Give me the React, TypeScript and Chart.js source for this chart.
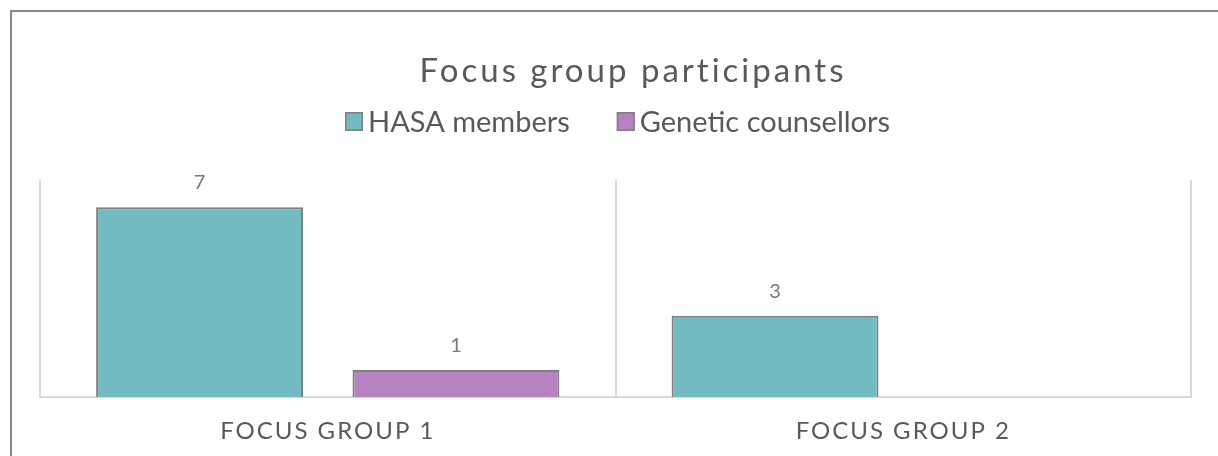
import React, { useEffect, useRef } from "react";
import { Chart, registerables } from "chart.js";

Chart.register(...registerables);

const categories = ["FOCUS GROUP 1", "FOCUS GROUP 2"];
const hasaMembers: (number | null)[] = [7, 3];
const geneticCounsellors: (number | null)[] = [1, null];
const seriesNames = ["HASA members", "Genetic counsellors"];
const seriesColors = ["#72BBC0", "#B782C2"];
const chartTitle = "Focus group participants";
const yMin = 0;
const yMax = 8;

const FONT = "Lato, 'Open Sans', sans-serif";
const TEXT = "#595959";

const customPlugin = {
  id: "customDecor",
  beforeDraw(chart: any) {
    (chart.ctx as any).letterSpacing = "2px";
  },
  beforeDatasetsDraw(chart: any) {
    (chart.ctx as any).letterSpacing = "0px";
  },
  afterDraw(chart: any) {
    const ctx = chart.ctx as any;
    ctx.save();
    // data labels
    ctx.letterSpacing = "0px";
    ctx.font = `20px ${FONT}`;
    ctx.fillStyle = "#7a7a7a";
    ctx.textAlign = "center";
    ctx.textBaseline = "alphabetic";
    chart.data.datasets.forEach((ds: any, i: number) => {
      const meta = chart.getDatasetMeta(i);
      meta.data.forEach((bar: any, j: number) => {
        const v = ds.data[j];
        if (v == null) return;
        ctx.fillText(String(v), bar.x, bar.y - 18);
      });
    });
    // title
    ctx.letterSpacing = "3px";
    ctx.font = `33px ${FONT}`;
    ctx.fillStyle = TEXT;
    ctx.textAlign = "center";
    ctx.fillText(chartTitle, 621, 70);
    // legend
    ctx.letterSpacing = "0px";
    ctx.font = `29px ${FONT}`;
    ctx.textAlign = "left";
    const box = 18;
    const gapText = 5;
    const gapItem = 47;
    let x = 333;
    chart.data.datasets.forEach((ds: any) => {
      const w = ctx.measureText(ds.label).width;
      ctx.fillStyle = ds.backgroundColor;
      ctx.fillRect(x, 100, box, 19);
      ctx.strokeStyle = "#7f7f7f";
      ctx.lineWidth = 1.5;
      ctx.strokeRect(x + 0.75, 100.75, box - 1.5, 19 - 1.5);
      ctx.fillStyle = TEXT;
      ctx.fillText(ds.label, x + box + gapText, 120);
      x += box + gapText + w + gapItem;
    });
    ctx.restore();
  },
};

export default function App() {
  const canvasRef = useRef<HTMLCanvasElement | null>(null);

  useEffect(() => {
    if (!canvasRef.current) return;
    const chart = new Chart(canvasRef.current, {
      type: "bar",
      data: {
        labels: categories,
        datasets: [
          {
            label: seriesNames[0],
            data: hasaMembers,
            backgroundColor: seriesColors[0],
            borderColor: "#7f7f7f",
            borderWidth: 2,
            borderSkipped: "bottom",
            categoryPercentage: 0.891,
            barPercentage: 0.807,
          },
          {
            label: seriesNames[1],
            data: geneticCounsellors,
            backgroundColor: seriesColors[1],
            borderColor: "#7f7f7f",
            borderWidth: 2,
            borderSkipped: "bottom",
            categoryPercentage: 0.891,
            barPercentage: 0.807,
          },
        ],
      },
      options: {
        animation: false,
        responsive: true,
        maintainAspectRatio: false,
        layout: { padding: { left: 28, right: 27, top: 168, bottom: 6.2 } },
        plugins: {
          legend: { display: false },
          title: { display: false },
          tooltip: { enabled: false },
        },
        scales: {
          x: {
            grid: { display: true, color: "#d9d9d9", lineWidth: 2, drawTicks: false, offset: true },
            border: { display: true, color: "#d9d9d9", width: 2 },
            ticks: { color: TEXT, font: { family: FONT, size: 24 }, padding: 20 },
          },
          y: {
            display: false,
            min: yMin,
            max: yMax,
          },
        },
      },
      plugins: [customPlugin],
    });
    return () => chart.destroy();
  }, []);

  return (
    <div
      style={{
        position: "fixed",
        left: 10,
        top: 10,
        width: 1400,
        height: 700,
        borderLeft: "2px solid #878787",
        borderTop: "2px solid #878787",
        background: "#fff",
      }}
    >
      <div style={{ position: "relative", width: 1206, height: 460 }}>
        <canvas ref={canvasRef} />
      </div>
    </div>
  );
}
